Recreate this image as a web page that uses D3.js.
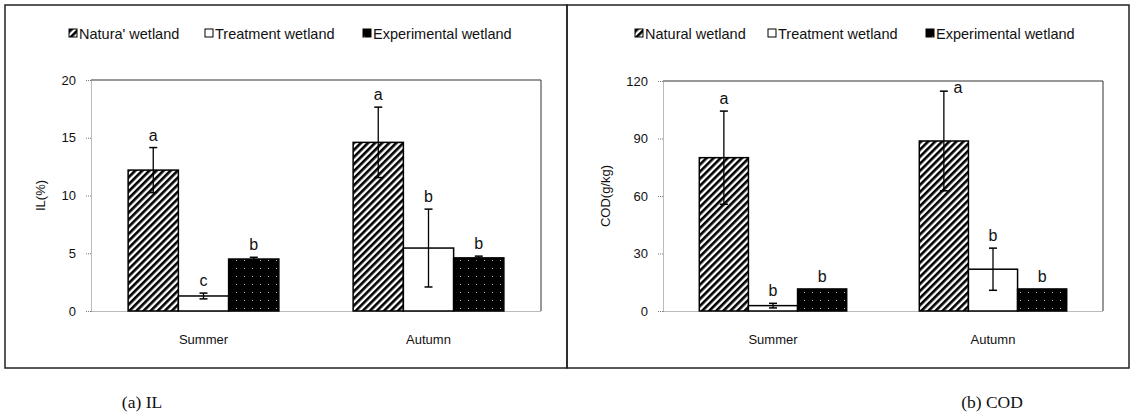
<!DOCTYPE html>
<html>
<head>
<meta charset="utf-8">
<script src="https://cdn.jsdelivr.net/npm/d3@7"></script>
<style>
  html, body { margin: 0; padding: 0; background: #fff; }
  svg { display: block; }
  text { font-family: "Liberation Sans", Arial, sans-serif; fill: #111; }
</style>
</head>
<body>
<svg id="chart" width="1134" height="415"></svg>
<script>
// ---------------- data ----------------
const categories = ["Summer", "Autumn"];
const seriesKeys = ["natural", "treatment", "experimental"];
const legendLabelsIL = ["Natura' wetland", "Treatment wetland", "Experimental wetland"];
const legendLabelsCOD = ["Natural wetland", "Treatment wetland", "Experimental wetland"];

const ilNatural = [12.2, 14.6];
const ilNaturalErr = [1.95, 3.05];
const ilTreatment = [1.3, 5.45];
const ilTreatmentErr = [0.25, 3.37];
const ilExperimental = [4.5, 4.6];
const ilExperimentalErr = [0.15, 0.15];
const ilLetters = [["a", "c", "b"], ["a", "b", "b"]];
const ilTicks = [0, 5, 10, 15, 20];

const codNatural = [80, 88.7];
const codNaturalErr = [24.3, 26];
const codTreatment = [2.8, 21.8];
const codTreatmentErr = [1.2, 11];
const codExperimental = [11.5, 11.5];
const codExperimentalErr = [0, 0];
const codLetters = [["a", "b", "b"], ["a", "b", "b"]];
const codTicks = [0, 30, 60, 90, 120];

// ---------------- drawing ----------------
const svg = d3.select("#chart");
const defs = svg.append("defs");

// hatch pattern
const hatch = defs.append("pattern")
  .attr("id", "hatch").attr("patternUnits", "userSpaceOnUse")
  .attr("width", 5).attr("height", 5)
  .attr("patternTransform", "rotate(45)");
hatch.append("rect").attr("width", 5).attr("height", 5).attr("fill", "#fff");
hatch.append("line").attr("x1", 1.3).attr("y1", 0).attr("x2", 1.3).attr("y2", 5)
  .attr("stroke", "#000").attr("stroke-width", 2.7);

// dotted black pattern
const dots = defs.append("pattern")
  .attr("id", "dots").attr("patternUnits", "userSpaceOnUse")
  .attr("width", 8).attr("height", 8);
dots.append("rect").attr("width", 8).attr("height", 8).attr("fill", "#000");
dots.append("rect").attr("x", 4).attr("y", 4).attr("width", 1).attr("height", 1).attr("fill", "#bbb");

const fills = { natural: "url(#hatch)", treatment: "#fff", experimental: "url(#dots)" };

// panel frames
svg.append("rect").attr("x", 5).attr("y", 5).attr("width", 562).attr("height", 363)
  .attr("fill", "none").attr("stroke", "#222").attr("stroke-width", 1.5);
svg.append("rect").attr("x", 567).attr("y", 5).attr("width", 562).attr("height", 363)
  .attr("fill", "none").attr("stroke", "#222").attr("stroke-width", 1.5);

function drawPanel(cfg) {
  const g = svg.append("g");
  const y = d3.scaleLinear().domain([cfg.ticks[0], cfg.ticks[cfg.ticks.length - 1]])
    .range([cfg.yBot, cfg.yTop]);
  const x0 = d3.scaleBand().domain(categories).range([cfg.xL, cfg.xR])
    .paddingInner(0.33).paddingOuter(0.165);
  const x1 = d3.scaleBand().domain(seriesKeys).range([0, x0.bandwidth()]).padding(0);

  // top & right frame
  g.append("path")
    .attr("d", `M${cfg.xL},${cfg.yTop}H${cfg.xR}V${cfg.yBot}`)
    .attr("fill", "none").attr("stroke", "#333").attr("stroke-width", 1);

  // y axis
  const ya = g.append("g").attr("transform", `translate(${cfg.xL},0)`)
    .call(d3.axisLeft(y).tickValues(cfg.ticks).tickSize(5).tickPadding(10).tickSizeOuter(0));
  ya.select(".domain").attr("stroke", "#777").attr("stroke-dasharray", "1,1");
  ya.selectAll(".tick line").attr("stroke", "#777").attr("stroke-dasharray", "1,1");
  ya.selectAll(".tick text").style("font-size", "13px")
    .style("font-family", "'Liberation Sans', Arial, sans-serif").attr("fill", "#111");

  // x axis
  const xa = g.append("g").attr("transform", `translate(0,${cfg.yBot})`)
    .call(d3.axisBottom(x0).tickSize(0).tickPadding(24));
  xa.select(".domain").attr("stroke", "#777").attr("stroke-dasharray", "1,1");
  xa.selectAll(".tick text").style("font-size", "13px")
    .style("font-family", "'Liberation Sans', Arial, sans-serif").attr("fill", "#111");

  // bars
  const rows = [];
  categories.forEach((c, i) => {
    seriesKeys.forEach((k, j) => {
      rows.push({ cat: c, key: k, v: cfg.values[j][i], e: cfg.errors[j][i], letter: cfg.letters[i][j] });
    });
  });

  g.selectAll("rect.bar").data(rows).enter().append("rect")
    .attr("class", "bar")
    .attr("x", d => x0(d.cat) + x1(d.key))
    .attr("y", d => y(d.v))
    .attr("width", x1.bandwidth())
    .attr("height", d => y(0) - y(d.v))
    .attr("fill", d => fills[d.key])
    .attr("stroke", "#000").attr("stroke-width", 1.5);

  // error bars
  const eb = g.selectAll("g.err").data(rows.filter(d => d.e > 0)).enter().append("g")
    .attr("class", "err")
    .attr("transform", d => `translate(${x0(d.cat) + x1(d.key) + x1.bandwidth() / 2},0)`);
  eb.append("line").attr("x1", 0).attr("x2", 0)
    .attr("y1", d => y(d.v + d.e)).attr("y2", d => y(d.v - d.e))
    .attr("stroke", "#000").attr("stroke-width", 1.3);
  eb.append("line").attr("x1", -4).attr("x2", 4)
    .attr("y1", d => y(d.v + d.e)).attr("y2", d => y(d.v + d.e))
    .attr("stroke", "#000").attr("stroke-width", 1.5);
  eb.append("line").attr("x1", -4).attr("x2", 4)
    .attr("y1", d => y(d.v - d.e)).attr("y2", d => y(d.v - d.e))
    .attr("stroke", "#000").attr("stroke-width", 1.5);

  // significance letters
  g.selectAll("text.sig").data(rows).enter().append("text")
    .attr("class", "sig")
    .attr("x", d => {
      const cx = x0(d.cat) + x1(d.key) + x1.bandwidth() / 2;
      return (y(d.v + d.e) - 16 < cfg.yTop) ? cx + 14 : cx;
    })
    .attr("y", d => {
      const top = y(d.v + d.e);
      return (top - 16 < cfg.yTop) ? top + 2 : top - 7;
    })
    .attr("text-anchor", "middle")
    .style("font-size", "16px")
    .text(d => d.letter);

  // y title
  g.append("text")
    .attr("transform", `translate(${cfg.titleX},${(cfg.yTop + cfg.yBot) / 2}) rotate(-90)`)
    .attr("text-anchor", "middle").attr("dy", "0.35em")
    .style("font-size", "13px")
    .text(cfg.yTitle);

  // legend
  cfg.legend.forEach((lbl, j) => {
    const lx = cfg.legendX[j];
    g.append("rect").attr("x", lx).attr("y", 29).attr("width", 8).attr("height", 8)
      .attr("fill", fills[seriesKeys[j]]).attr("stroke", "#000").attr("stroke-width", 1);
    g.append("text").attr("x", lx + 10).attr("y", 38.5)
      .style("font-size", "14.5px").text(lbl);
  });

  // caption
  svg.append("text").attr("x", cfg.capX).attr("y", 408)
    .attr("text-anchor", "middle")
    .style("font-family", "'Liberation Serif', 'Times New Roman', serif")
    .style("font-size", "17.5px")
    .text(cfg.caption);
}

drawPanel({
  xL: 91, xR: 541, yTop: 80, yBot: 311,
  ticks: ilTicks,
  values: [ilNatural, ilTreatment, ilExperimental],
  errors: [ilNaturalErr, ilTreatmentErr, ilExperimentalErr],
  letters: ilLetters,
  yTitle: "IL(%)", titleX: 40,
  legend: legendLabelsIL, legendX: [69, 205, 363],
  caption: "(a)  IL", capX: 142
});

drawPanel({
  xL: 663, xR: 1103, yTop: 81, yBot: 311,
  ticks: codTicks,
  values: [codNatural, codTreatment, codExperimental],
  errors: [codNaturalErr, codTreatmentErr, codExperimentalErr],
  letters: codLetters,
  yTitle: "COD(g/kg)", titleX: 605,
  legend: legendLabelsCOD, legendX: [635, 768, 926],
  caption: "(b)  COD", capX: 992
});
</script>
</body>
</html>
